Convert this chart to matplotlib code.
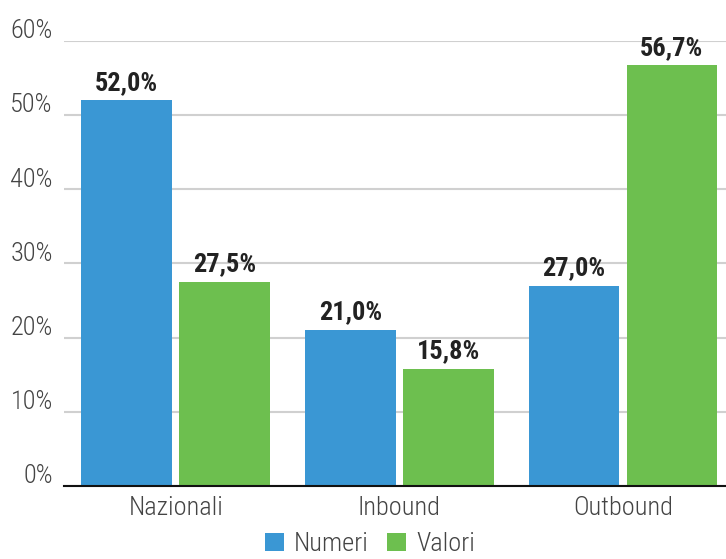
import numpy as np
import matplotlib.pyplot as plt
from matplotlib.transforms import ScaledTranslation

categories = ['Nazionali', 'Inbound', 'Outbound']
numeri = [52.0, 21.0, 27.0]
valori = [27.5, 15.8, 56.7]
yticks = [0, 10, 20, 30, 40, 50, 60]

blue = '#3a97d4'
green = '#6dbf4f'
plt.rcParams['font.family'] = ['Roboto Condensed', 'Roboto', 'DejaVu Sans']

fig = plt.figure(figsize=(7.26, 5.59), dpi=100)
ax = fig.add_axes([0.088, 0.1306, 0.924, 0.7961])

x = np.arange(len(categories))
w = 0.405
b1 = ax.bar(x - 0.219, numeri, w, color=blue, label='Numeri', zorder=2)
b2 = ax.bar(x + 0.219, valori, w, color=green, label='Valori', zorder=2)

for bars, vals in ((b1, numeri), (b2, valori)):
    for rect, v in zip(bars, vals):
        ax.annotate(f'{v:.1f}%'.replace('.', ','),
                    (rect.get_x() + rect.get_width() / 2, v),
                    xytext=(0, 4), textcoords='offset points',
                    ha='center', va='bottom', fontsize=19, fontweight='bold',
                    color='#222222')

ax.set_xlim(-0.5, 2.5)
ax.set_ylim(0, 60)
ax.set_yticks(yticks)
ax.set_yticklabels([f'{t}%' for t in yticks], fontweight='light')
ax.set_xticks(x)
ax.set_xticklabels(categories, fontweight='light')
ax.yaxis.grid(True, color='#d0d0d0', linewidth=1.5, zorder=0)
ax.tick_params(axis='both', length=0, labelsize=19, colors='#444444', pad=7)
ax.tick_params(axis='y', pad=8)

# y labels sit just above their gridline
lift = ScaledTranslation(0, 2 / 72, fig.dpi_scale_trans)
for lab in ax.get_yticklabels():
    lab.set_va('baseline')
    lab.set_transform(lab.get_transform() + lift)

for s in ['top', 'right', 'left']:
    ax.spines[s].set_visible(False)
ax.spines['bottom'].set_color('#111111')
ax.spines['bottom'].set_linewidth(1.5)
ax.spines['bottom'].set_zorder(3)

fig.legend(loc='lower center', bbox_to_anchor=(0.51, -0.038), ncol=2, frameon=False,
           prop={'size': 19, 'weight': 'light'}, labelcolor='#444444',
           handlelength=0.7, handleheight=0.7, handletextpad=0.4, columnspacing=0.7)

fig.savefig('out.png', dpi=100)
